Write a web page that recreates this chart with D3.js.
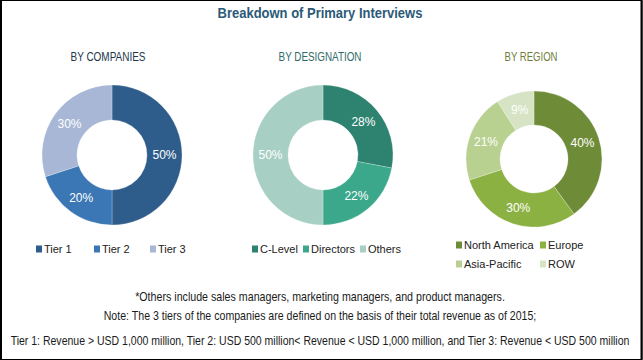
<!DOCTYPE html>
<html>
<head>
<meta charset="utf-8">
<script src="https://cdn.jsdelivr.net/npm/d3@7"></script>
<style>
  html, body { margin: 0; padding: 0; background: #fff; }
  text { font-family: "Liberation Sans", Arial, sans-serif; }
</style>
</head>
<body>
<div id="chart"></div>
<script>
// data
const companyLabels = ["Tier 1", "Tier 2", "Tier 3"];
const companyValues = [50, 20, 30];
const designationLabels = ["C-Level", "Directors", "Others"];
const designationValues = [28, 22, 50];
const regionLabels = ["North America", "Europe", "Asia-Pacific", "ROW"];
const regionValues = [40, 30, 21, 9];
const notes = [
  "*Others include sales managers, marketing managers, and product managers.",
  "Note: The 3 tiers of the companies are defined on the basis of their total revenue as of 2015;",
  "Tier 1: Revenue > USD 1,000 million, Tier 2: USD 500 million< Revenue < USD 1,000 million, and Tier 3: Revenue < USD 500 million"
];

const width = 643, height = 360;

const svg = d3.select("#chart").append("svg")
  .attr("width", width)
  .attr("height", height);

// frame
svg.append("rect")
  .attr("x", 0.5).attr("y", 0.5)
  .attr("width", width - 1.5).attr("height", height - 1)
  .attr("fill", "#fff")
  .attr("stroke", "#000")
  .attr("stroke-width", 1);
svg.append("line").attr("x1", 1).attr("x2", 1).attr("y1", 0).attr("y2", height)
  .attr("stroke", "#000").attr("stroke-width", 2);
svg.append("line").attr("x1", width - 1.5).attr("x2", width - 1.5).attr("y1", 0).attr("y2", height)
  .attr("stroke", "#000").attr("stroke-width", 2);

// no condensed font installed: squeeze text horizontally to the reference widths
function squeeze(sel, x, y, w) {
  sel.attr("x", 0).attr("y", 0).attr("text-anchor", "middle");
  const natural = sel.node().getComputedTextLength();
  const k = Math.min(1, w / natural);
  sel.attr("transform", "translate(" + x + "," + y + ") scale(" + k + ",1)");
}

svg.append("text")
  .attr("font-size", 15)
  .attr("font-weight", "bold")
  .attr("fill", "#2b5a78")
  .text("Breakdown of Primary Interviews")
  .call(squeeze, 320, 18, 205);

const panels = [
  {
    title: "BY COMPANIES", titleColor: "#22384a", cx: 112, cy: 155, r: 70, titleX: 108, titleW: 75,
    labels: companyLabels, values: companyValues,
    colors: ["#2e5d8c", "#3a77b4", "#a8b7d6"],
    legend: [[36, 249], [94, 249], [150, 249]]
  },
  {
    title: "BY DESIGNATION", titleColor: "#2f6b68", cx: 323, cy: 155, r: 70, titleX: 320, titleW: 83,
    labels: designationLabels, values: designationValues,
    colors: ["#2e8370", "#3ba78b", "#a7cfc4"],
    legend: [[252, 249], [303, 249], [360, 249]]
  },
  {
    title: "BY REGION", titleColor: "#6e7d3a", cx: 534, cy: 159, r: 68, titleX: 531, titleW: 53,
    labels: regionLabels, values: regionValues,
    colors: ["#6e8b37", "#8cb143", "#b8d090", "#d6e3c4"],
    legend: [[456, 245], [540, 245], [456, 264], [540, 264]]
  }
];

panels.forEach(function (p) {
  svg.append("text")
    .attr("font-size", 12)
    .attr("fill", p.titleColor)
    .text(p.title)
    .call(squeeze, p.titleX, 61, p.titleW);

  const pie = d3.pie().sort(null).value(function (d) { return d; });
  const arc = d3.arc().innerRadius(p.r * 0.5).outerRadius(p.r);
  const labelArc = d3.arc().innerRadius(p.r * 0.75).outerRadius(p.r * 0.75);
  const arcs = pie(p.values);

  const g = svg.append("g").attr("transform", "translate(" + p.cx + "," + p.cy + ")");

  g.selectAll("path")
    .data(arcs)
    .enter()
    .append("path")
      .attr("d", arc)
      .attr("fill", function (d, i) { return p.colors[i]; })
      .attr("stroke", "#fff")
      .attr("stroke-opacity", 0.35)
      .attr("stroke-width", 0.7);

  g.selectAll(".slice-label")
    .data(arcs)
    .enter()
    .append("text")
      .attr("class", "slice-label")
      .attr("transform", function (d) { return "translate(" + labelArc.centroid(d) + ")"; })
      .attr("text-anchor", "middle")
      .attr("dy", "0.35em")
      .attr("font-size", 12)
      .attr("fill", "#fff")
      .text(function (d) { return d.data + "%"; });

  const leg = svg.selectAll(null)
    .data(p.labels)
    .enter()
    .append("g")
      .attr("transform", function (d, i) { return "translate(" + p.legend[i][0] + "," + p.legend[i][1] + ")"; });
  leg.append("rect")
    .attr("x", 0).attr("y", -3.5)
    .attr("width", 6).attr("height", 7)
    .attr("fill", function (d, i) { return p.colors[i]; });
  leg.append("text")
    .attr("x", 8).attr("dy", "0.36em")
    .attr("font-size", 11)
    .attr("fill", "#222")
    .text(function (d) { return d; });
});

const noteY = [301, 320, 345];
const noteW = [370, 433, 620];
notes.forEach(function (n, i) {
  svg.append("text")
    .attr("class", "note")
    .attr("font-size", 12)
    .attr("fill", "#1a1a1a")
    .text(n)
    .call(squeeze, 320, noteY[i], noteW[i]);
});
</script>
</body>
</html>
